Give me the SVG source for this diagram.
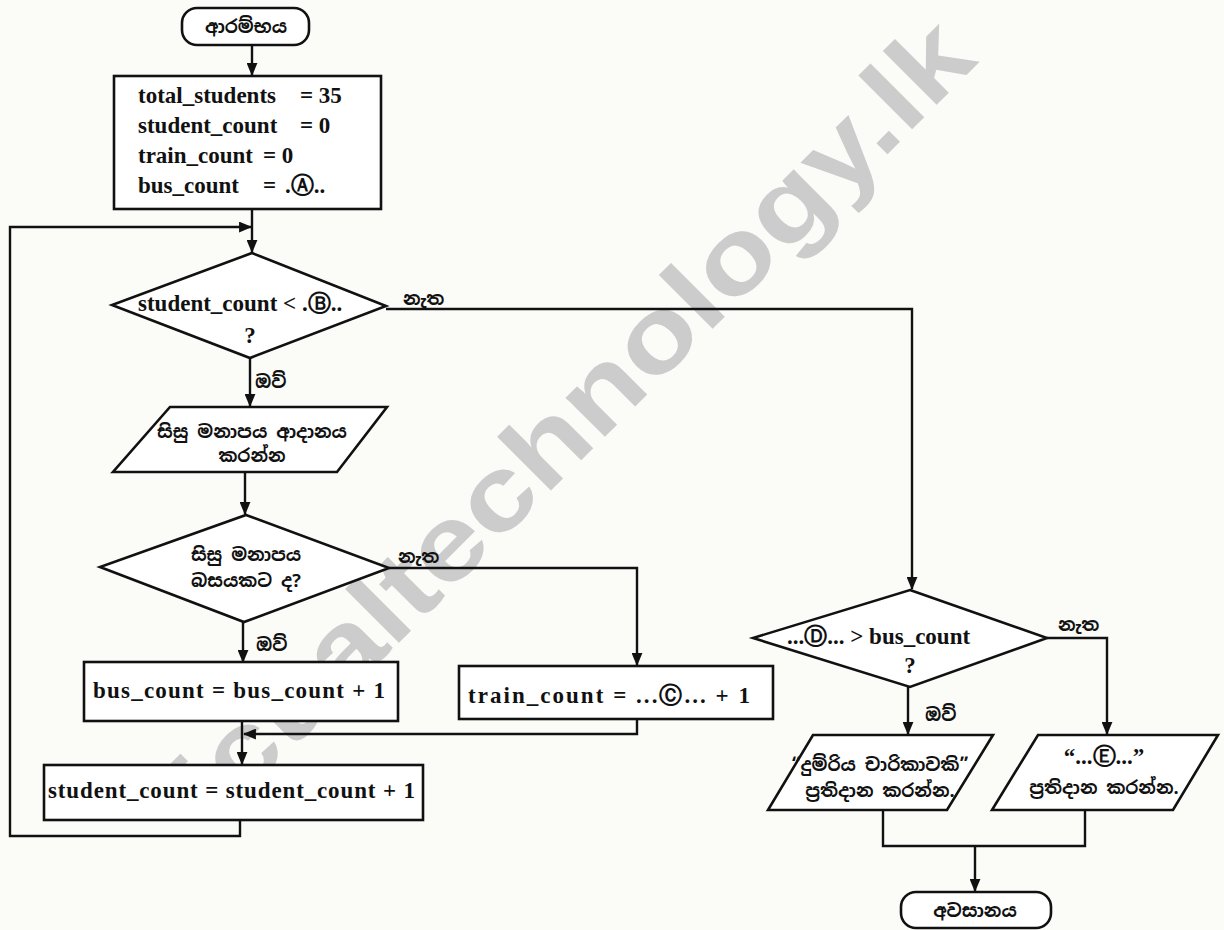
<svg xmlns="http://www.w3.org/2000/svg" width="1224" height="930" viewBox="0 0 1224 930">
<defs>
<marker id="ah" viewBox="0 0 12 10" refX="11" refY="5" markerWidth="13" markerHeight="11" markerUnits="userSpaceOnUse" orient="auto">
<path d="M0,0 L12,5 L0,10 Z" fill="#111"/>
</marker>
<style>
.bg{fill:#fbfbf8}
.sh{fill:#fff;stroke:#111;stroke-width:2.6}
.ln{fill:none;stroke:#111;stroke-width:2.4}
.t{font-family:"Liberation Serif","Times New Roman",serif;font-weight:bold;font-size:23px;fill:#111}
.c{font-family:"DejaVu Sans",sans-serif;font-weight:bold;font-size:23px;fill:#111}
.si{font-family:"Noto Sans Sinhala","Noto Serif Sinhala","Iskoola Pota","Noto Sans",sans-serif;font-weight:bold;font-size:18px;fill:#111}
.wm{font-family:"Liberation Sans",Arial,sans-serif;font-weight:bold;font-size:105px;fill:#cccccc}
</style>
</defs>
<rect class="bg" x="0" y="0" width="1224" height="930"/>
<text class="wm" x="0" y="0" text-anchor="middle" dominant-baseline="central" transform="translate(572,418) rotate(-45)" textLength="1080" lengthAdjust="spacingAndGlyphs">ict.altechnology.lk</text>

<g id="connectors">
<path class="ln" d="M252,46 V75" marker-end="url(#ah)"/>
<path class="ln" d="M252,209 V252" marker-end="url(#ah)"/>
<path class="ln" d="M240,820 V836 H10 V227 H251" marker-end="url(#ah)"/>
<path class="ln" d="M250,358 V406" marker-end="url(#ah)"/>
<path class="ln" d="M386,309 H912 V589" marker-end="url(#ah)"/>
<path class="ln" d="M245,472 V514" marker-end="url(#ah)"/>
<path class="ln" d="M243,622 V662" marker-end="url(#ah)"/>
<path class="ln" d="M389,568 H637 V665" marker-end="url(#ah)"/>
<path class="ln" d="M242,721 V764" marker-end="url(#ah)"/>
<path class="ln" d="M637,719 V734 H244" marker-end="url(#ah)"/>
<path class="ln" d="M908,687 V734" marker-end="url(#ah)"/>
<path class="ln" d="M1047,638 H1107 V734" marker-end="url(#ah)"/>
<path class="ln" d="M883,810 V846 H1085 V810"/>
<path class="ln" d="M975,846 V891" marker-end="url(#ah)"/>
<text class="si" x="403" y="305">නැත</text>
<text class="si" x="255" y="388">ඔව්</text>
<text class="si" x="398" y="563">නැත</text>
<text class="si" x="256" y="651">ඔව්</text>
<text class="si" x="1058" y="631">නැත</text>
<text class="si" x="925" y="721">ඔව්</text>
</g>

<g id="start">
<rect class="sh" x="182" y="8" width="127" height="37" rx="15"/>
<text class="si" x="246" y="33" text-anchor="middle">ආරම්භය</text>
</g>

<g id="init">
<rect class="sh" x="114" y="76" width="267" height="133"/>
<text class="t" x="138" y="103">total_students</text>
<text class="t" x="300" y="103">= 35</text>
<text class="t" x="138" y="133">student_count</text>
<text class="t" x="300" y="133">= 0</text>
<text class="t" x="138" y="163">train_count</text>
<text class="t" x="263" y="163">= 0</text>
<text class="t" x="138" y="193">bus_count</text>
<text class="t" x="263" y="193">=</text>
<text class="t" x="285" y="193">.<tspan class="c">Ⓐ</tspan>..</text>
</g>

<g id="decision-loop">
<polygon class="sh" points="252,253 386,306 250,358 112,305"/>
<text class="t" x="138" y="311">student_count &lt; .<tspan class="c">Ⓑ</tspan>..</text>
<text class="t" x="250" y="343" text-anchor="middle">?</text>
</g>

<g id="input">
<polygon class="sh" points="170,407 387,407 337,472 113,472"/>
<text class="si" x="252" y="438" text-anchor="middle">සිසු මනාපය ආදානය</text>
<text class="si" x="252" y="462" text-anchor="middle">කරන්න</text>
</g>

<g id="decision-bus">
<polygon class="sh" points="246,515 389,568 244,622 100,567"/>
<text class="si" x="246" y="561" text-anchor="middle">සිසු මනාපය</text>
<text class="si" x="246" y="587" text-anchor="middle">බසයකට ද?</text>
</g>

<g id="bus-inc">
<rect class="sh" x="84" y="662" width="314" height="59"/>
<text class="t" x="93" y="698" textLength="292" lengthAdjust="spacing">bus_count = bus_count + 1</text>
</g>

<g id="train-inc">
<rect class="sh" x="459" y="666" width="314" height="53"/>
<text class="t" x="468" y="703" textLength="282" lengthAdjust="spacing">train_count = ...<tspan class="c">Ⓒ</tspan>... + 1</text>
</g>

<g id="student-inc">
<rect class="sh" x="44" y="765" width="379" height="55"/>
<text class="t" x="48" y="798" textLength="367" lengthAdjust="spacing">student_count = student_count + 1</text>
</g>

<g id="decision-compare">
<polygon class="sh" points="910,590 1047,638 910,687 753,638"/>
<text class="t" x="787" y="644">...<tspan class="c">Ⓓ</tspan>... &gt; bus_count</text>
<text class="t" x="910" y="673" text-anchor="middle">?</text>
</g>

<g id="output-train">
<polygon class="sh" points="813,735 993,735 947,810 768,810"/>
<text class="si" x="880" y="771" text-anchor="middle">“දුම්රිය චාරිකාවකි”</text>
<text class="si" x="880" y="797" text-anchor="middle">ප්‍රතිදාන කරන්න.</text>
</g>

<g id="output-e">
<polygon class="sh" points="1038,735 1218,735 1173,810 992,810"/>
<text class="t" x="1104" y="764" text-anchor="middle">“...<tspan class="c">Ⓔ</tspan>...”</text>
<text class="si" x="1104" y="794" text-anchor="middle">ප්‍රතිදාන කරන්න.</text>
</g>

<g id="end">
<rect class="sh" x="901" y="892" width="150" height="36" rx="15"/>
<text class="si" x="975" y="917" text-anchor="middle">අවසානය</text>
</g>
</svg>
